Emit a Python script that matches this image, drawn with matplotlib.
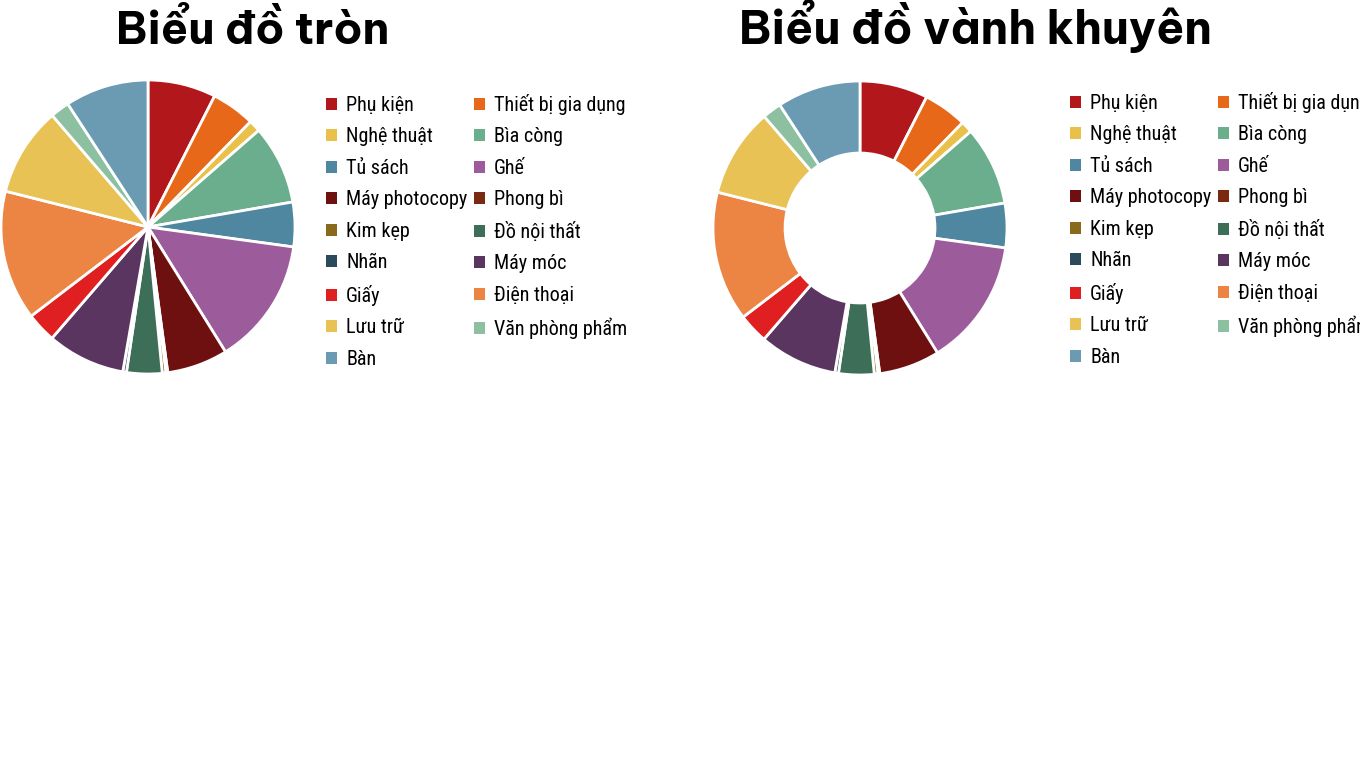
import matplotlib
matplotlib.use("Agg")
import matplotlib.pyplot as plt
from matplotlib.patches import Patch
from matplotlib import font_manager

labels = ["Phụ kiện", "Thiết bị gia dụng", "Nghệ thuật", "Bìa còng", "Tủ sách", "Ghế",
          "Máy photocopy", "Phong bì", "Kim kẹp", "Đồ nội thất", "Nhãn", "Máy móc",
          "Giấy", "Điện thoại", "Lưu trữ", "Văn phòng phẩm", "Bàn"]
values = [7.5, 4.8, 1.3, 8.7, 4.9, 14.0, 6.7, 0.2, 0.4, 3.9, 0.4, 8.6,
          3.3, 14.3, 9.8, 2.1, 9.2]
colors = ["#b2181b", "#e8681a", "#e8c04a", "#6aae8e", "#4f86a0", "#9c5b9a",
          "#6e1010", "#7a2a10", "#8a6a1a", "#3d6e58", "#2c4a5e", "#5a3560",
          "#e02020", "#ec8444", "#e8c255", "#8cc0a0", "#6a9bb3"]

names = {f.name for f in font_manager.fontManager.ttflist}


def pick(cands, default):
    for c in cands:
        if c in names:
            return c
    return default


legend_font = pick(["Roboto Condensed", "Liberation Sans Narrow"], "Roboto")
title_font = pick(["Be Vietnam Pro", "Montserrat"], "DejaVu Sans")

W, H = 1360, 784
fig = plt.figure(figsize=(W / 100, H / 100), dpi=100)
fig.patch.set_facecolor("white")


def px_axes(cx, cy, r):
    return fig.add_axes([(cx - r) / W, (H - cy - r) / H, 2 * r / W, 2 * r / H])


def draw(cx, cy, r, donut, title, tx, tsize, leg_x, leg_y):
    ax = px_axes(cx, cy, r)
    wp = dict(edgecolor="white", linewidth=2)
    if donut:
        wp["width"] = 0.49
    ax.pie(values, colors=colors, startangle=90, counterclock=False,
           radius=1, wedgeprops=wp)
    ax.set_xlim(-1, 1)
    ax.set_ylim(-1, 1)
    ax.set_aspect("equal")
    ax.axis("off")
    fig.text(tx / W, 1 - 44 / H, title, ha="center", va="baseline",
             fontsize=tsize, fontweight="bold", family=[title_font, "DejaVu Sans"])

    handles = [Patch(facecolor=c, edgecolor="none") for c in colors]
    # legend fills row by row in the reference
    order = list(range(0, len(labels), 2)) + list(range(1, len(labels), 2))
    fig.legend([handles[i] for i in order], [labels[i] for i in order],
               loc="upper left", bbox_to_anchor=(leg_x / W, 1 - leg_y / H),
               ncol=2, frameon=False, handlelength=0.55, handleheight=0.55,
               handletextpad=0.45, labelspacing=0.62, columnspacing=0.32,
               borderaxespad=0, borderpad=0,
               prop={"family": legend_font, "size": 14.5})


draw(148, 227, 147, False, "Biểu đồ tròn", 253, 32, 326, 94)
draw(860, 228, 147, True, "Biểu đồ vành khuyên", 975, 33, 1070, 92)

fig.savefig("out.png", dpi=100, facecolor="white")
